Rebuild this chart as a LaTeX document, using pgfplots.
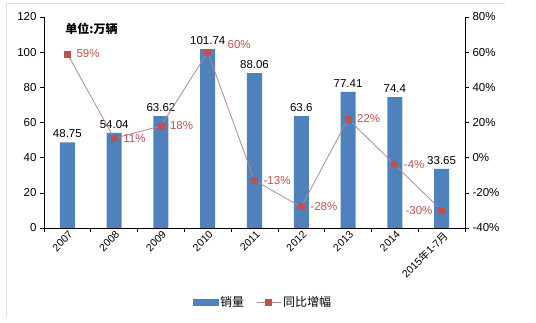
\documentclass[border=0pt]{standalone}
\usepackage{pgfplots}
\pgfplotsset{compat=1.18}
\usepackage{fontspec}
\setmainfont{Liberation Sans}
\newfontfamily\cjk{Noto Sans CJK SC}
\definecolor{barblue}{HTML}{4F81BD}
\definecolor{linered}{HTML}{C0504D}
\definecolor{linebrown}{HTML}{B08A8A}
\pgfkeys{/pgf/number format/assume math mode=true}
\pgfplotsset{
  barleg/.style={legend image code/.code={\fill[barblue] (0pt,-3pt) rectangle (25pt,3pt);}},
  lineleg/.style={legend image code/.code={\draw[##1, mark repeat=2, mark phase=2] plot coordinates {(0pt,0pt) (12pt,0pt) (24pt,0pt)};}},
}
\begin{document}
\begin{tikzpicture}
\path[use as bounding box] (0pt,0pt) rectangle (536pt,323pt);
\draw[gray!25, line width=0.6pt] (6pt,7pt) -- (6pt,320pt) -- (505pt,320pt);
\begin{axis}[
  at={(44pt,95pt)}, anchor=south west,
  width=421pt, height=211pt, scale only axis,
  xmin=-0.5, xmax=8.5, ymin=0, ymax=120,
  axis x line*=bottom, axis y line*=left,
  axis line style={black, line width=0.6pt},
  ytick={0,20,...,120},
  xtick={-0.5,0.5,...,8.5},
  xticklabels={},
  extra x ticks={0,1,2,3,4,5,6,7,8},
  extra x tick style={major tick length=0pt, tick label style={rotate=45, anchor=north east, inner sep=1pt, yshift=-1pt, font=\fontsize{10.5}{12}\selectfont}},
  extra x tick labels={2007,2008,2009,2010,2011,2012,2013,2014,{2015{\cjk 年}1-7{\cjk 月}}},
  tick align=outside, major tick length=4pt,
  tick style={black, line width=0.6pt},
  ticklabel style={font=\fontsize{11.5}{13}\selectfont, /pgf/number format/assume math mode=true},
  clip=false,
]
\addplot[ybar, bar width=15pt, fill=barblue, draw=none,
  nodes near coords, every node near coord/.append style={font=\fontsize{11.5}{13}\selectfont, black, yshift=1pt, /pgf/number format/assume math mode=true}]
  coordinates {(0,48.75) (1,54.04) (2,63.62) (3,101.74) (4,88.06) (5,63.6) (6,77.41) (7,74.4) (8,33.65)};
\node[anchor=west, font=\cjk\bfseries\fontsize{12}{14}\selectfont] at (axis cs:-0.12,113) {单位:万辆};
\end{axis}
\begin{axis}[
  at={(44pt,95pt)}, anchor=south west,
  width=421pt, height=211pt, scale only axis,
  xmin=-0.5, xmax=8.5, ymin=-40, ymax=80,
  axis x line=none, axis y line*=right,
  axis line style={black, line width=0.6pt},
  ytick={-40,-20,...,80},
  yticklabel={\pgfmathprintnumber{\tick}\%},
  tick align=outside, major tick length=4pt,
  tick style={black, line width=0.6pt},
  ticklabel style={font=\fontsize{11.5}{13}\selectfont, /pgf/number format/assume math mode=true},
  clip=false,
  legend style={at={(0.52,-0.305)}, anchor=north, draw=none, fill=none,
    legend columns=2, font=\cjk\fontsize{12}{14}\selectfont,
    /tikz/every even column/.append style={column sep=10pt}},
]
\addlegendimage{barleg}
\addlegendentry{销量}
\addplot[color=linebrown, line width=0.8pt, mark=square*, mark size=3pt,
  mark options={fill=linered, draw=linered}, lineleg]
  coordinates {(0,59) (1,11) (2,18) (3,60) (4,-13) (5,-28) (6,22) (7,-4) (8,-30)};
\addlegendentry{同比增幅}
\begin{scope}[font=\fontsize{11.5}{13}\selectfont, text=linered]
\node[anchor=west] at (axis cs:0.12,59) {59\%};
\node[anchor=west] at (axis cs:1.12,11) {11\%};
\node[anchor=west] at (axis cs:2.12,18) {18\%};
\node[anchor=west] at (axis cs:3.35,64.5) {60\%};
\node[anchor=west] at (axis cs:4.12,-13) {-13\%};
\node[anchor=west] at (axis cs:5.12,-28) {-28\%};
\node[anchor=west] at (axis cs:6.12,22) {22\%};
\node[anchor=west] at (axis cs:7.12,-4) {-4\%};
\node[anchor=east] at (axis cs:7.88,-30) {-30\%};
\end{scope}
\end{axis}
\end{tikzpicture}
\end{document}
